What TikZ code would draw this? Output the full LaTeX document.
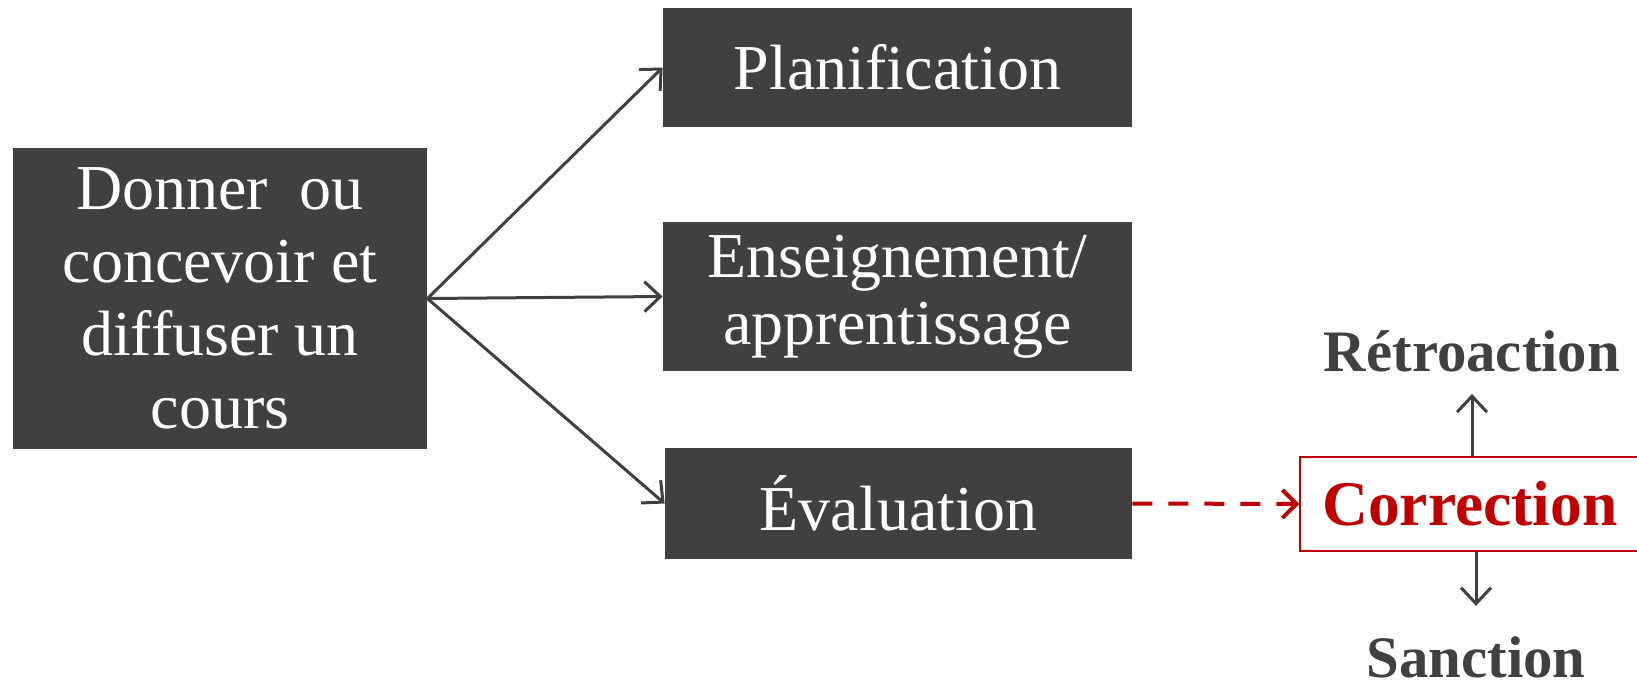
\documentclass[tikz,border=0pt]{standalone}
\usepackage{fontspec}
\setmainfont{Liberation Serif}
\usetikzlibrary{arrows.meta}
\definecolor{boxgray}{HTML}{404040}
\definecolor{corrred}{HTML}{C00000}

\begin{document}
\begin{tikzpicture}[x=0.5pt,y=-0.5pt,
    darkbox/.style={fill=boxgray, text=white, align=center, inner sep=0pt, font=\fontsize{32}{33.5}\selectfont},
    biglabel/.style={text=boxgray, inner sep=0pt, font=\bfseries\fontsize{29.4}{30}\selectfont},
    arr/.style={draw=boxgray, line width=1.5pt, -{Straight Barb[length=8pt,width=15pt]}}]
  \useasboundingbox (0,0) rectangle (1637,680);

  % Left box
  \node[darkbox, minimum width=207pt, minimum height=150.5pt, font=\fontsize{32}{36.5}\selectfont]
    (cours) at (220,298.5) {Donner~ ou\\concevoir et\\diffuser un\\cours};

  % Three steps
  \node[darkbox, minimum width=234.5pt, minimum height=59.5pt] (plan) at (897.5,67.5) {Planification};
  \node[darkbox, minimum width=234.5pt, minimum height=74.5pt] (ens) at (897.5,296.5) {Enseignement/\\apprentissage};
  \node[darkbox, minimum width=233.5pt, minimum height=55.5pt] (eval) at (898.5,503.5) {Évaluation};

  % Correction and its outcomes
  \node[draw=corrred, line width=0.75pt, text=corrred, inner sep=0pt, minimum width=170pt, minimum height=47pt,
    font=\bfseries\fontsize{31.8}{32}\selectfont] (corr) at (1470,504) {Correction};
  \node[biglabel, anchor=base] (retro) at (1472,371) {Rétroaction};
  \node[biglabel, anchor=base] (sanc) at (1476,677) {Sanction};

  % Arrows
  \foreach \target in {plan,ens,eval}
    \draw[arr] (cours.east) -- (\target.west);
  \draw[draw=corrred, line width=2pt, dash pattern=on 10pt off 8pt, -{Straight Barb[length=7pt,width=14pt]}]
    (eval.east) -- (corr.west);
  \draw[arr] (corr.north -| retro.south) -- (retro.south) [shorten >=11pt];
  \draw[arr] (corr.south -| sanc.north) -- (sanc.north) [shorten >=15pt];
\end{tikzpicture}
\end{document}
